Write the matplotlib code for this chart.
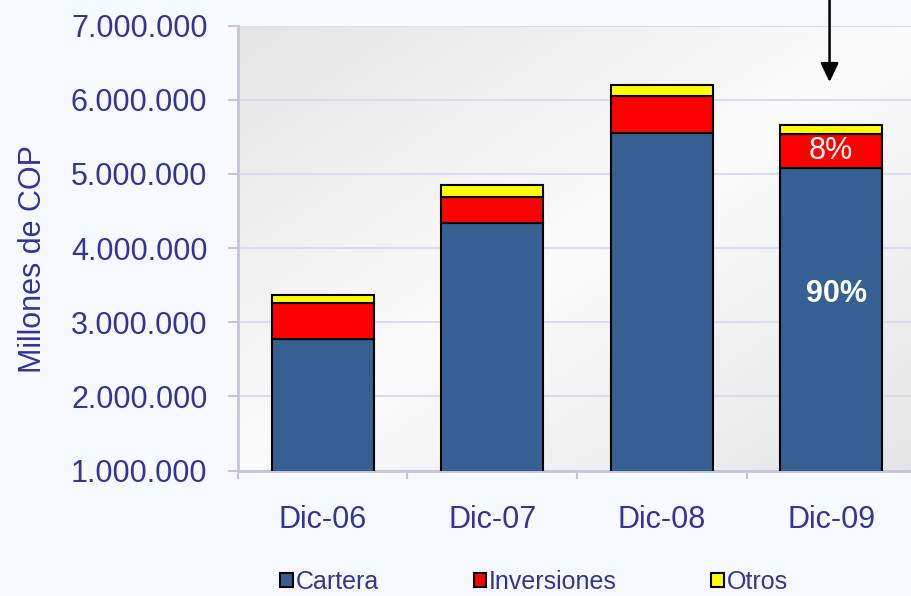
import numpy as np
import matplotlib
matplotlib.use("Agg")
import matplotlib.pyplot as plt
from matplotlib.patches import Patch

plt.rcParams['font.family'] = ['Liberation Sans', 'DejaVu Sans']

categories = ["Dic-06", "Dic-07", "Dic-08", "Dic-09"]
cartera = [2777000, 4333000, 5546000, 5083000]
inversiones = [477000, 350000, 507000, 454000]
otros = [112000, 163000, 145000, 121000]
ytick_values = [1000000, 2000000, 3000000, 4000000, 5000000, 6000000, 7000000]
ytick_labels = ["1.000.000", "2.000.000", "3.000.000", "4.000.000",
                "5.000.000", "6.000.000", "7.000.000"]
pct_labels = ["90%", "8%"]

TXT = "#333399"
C_CART = "#366092"
C_INV = "#FF0000"
C_OTR = "#FFFF00"
GRID = "#dcdcee"
AXC = "#c4c4dc"

W, H = 912, 596
fig = plt.figure(figsize=(W / 100, H / 100), dpi=100)
fig.patch.set_facecolor("#f6f9fd")

ax = fig.add_axes([238 / W, 1 - 470.5 / H, 678 / W, 445 / H])
ax.set_facecolor("none")

# gradient background of plot area
u = np.linspace(0, 1, 300)
v = np.linspace(0, 1, 200)
U, V = np.meshgrid(u, v)
t = (U + V) / 2
g = 0.985 - 0.09 * np.abs(2 * t - 1) ** 1.0
img = np.dstack([g, g, g])
ax.imshow(img, extent=[0, 1, 0, 1], transform=ax.transAxes, aspect="auto",
          zorder=0, origin="upper")

x = np.arange(len(categories))
bw = 0.6
b1 = np.array(cartera)
b2 = b1 + np.array(inversiones)
ax.bar(x, cartera, bw, color=C_CART, edgecolor="black", linewidth=1.5, zorder=3)
ax.bar(x, inversiones, bw, bottom=b1, color=C_INV, edgecolor="black", linewidth=1.5, zorder=3)
ax.bar(x, otros, bw, bottom=b2, color=C_OTR, edgecolor="black", linewidth=1.5, zorder=3)

ax.set_xlim(-0.5, 3.5)
ax.set_ylim(1000000, 7000000)

ax.set_yticks(ytick_values)
ax.set_yticklabels(ytick_labels)
ax.yaxis.grid(True, color=GRID, linewidth=1.5, zorder=1)
ax.set_axisbelow(True)

ax.set_xticks(x)
ax.set_xticklabels(categories)
ax.set_xticks(np.arange(-0.5, 4.0, 1.0), minor=True)
ax.tick_params(axis="x", which="major", length=0, pad=25, labelsize=22, labelcolor=TXT)
ax.tick_params(axis="x", which="minor", length=6, width=1.5, color=AXC)
ax.tick_params(axis="y", which="major", length=7, width=1.5, color=AXC, pad=15,
               labelsize=22, labelcolor=TXT)

for s in ["top", "right"]:
    ax.spines[s].set_visible(False)
for s in ["left", "bottom"]:
    ax.spines[s].set_color(AXC)
    ax.spines[s].set_linewidth(2)

fig.text(33 / W, 1 - 259.5 / H, "Millones de COP", rotation=90, ha="center",
         va="center", fontsize=22, color=TXT)

# percentage labels on Dic-09
ax.text(3.03, cartera[3] - 1700000, pct_labels[0], color="white", fontsize=22,
        fontweight="bold", ha="center", va="center", zorder=5)
ax.text(3.0, cartera[3] + inversiones[3] / 2, pct_labels[1], color="white", fontsize=22,
        ha="center", va="center", zorder=5)

# arrow
ax.annotate("", xy=(2.99, 6238000), xytext=(2.99, 7500000),
            arrowprops=dict(arrowstyle="-|>,head_length=1.15,head_width=0.55",
                            mutation_scale=10, color="black", lw=1.8,
                            shrinkA=0, shrinkB=0),
            annotation_clip=False, zorder=6)

handles = [Patch(facecolor=C_CART, edgecolor="black", linewidth=1.5),
           Patch(facecolor=C_INV, edgecolor="black", linewidth=1.5),
           Patch(facecolor=C_OTR, edgecolor="black", linewidth=1.5)]
leg = fig.legend(handles, ["Cartera", "Inversiones", "Otros"], ncol=3,
                 loc="center", bbox_to_anchor=(534 / W, 1 - 582 / H),
                 frameon=False, fontsize=18, handlelength=0.5, handleheight=0.5,
                 handletextpad=0.1, columnspacing=3.8, borderpad=0)
for txt in leg.get_texts():
    txt.set_color(TXT)

fig.savefig("out.png", dpi=100, facecolor=fig.get_facecolor())
